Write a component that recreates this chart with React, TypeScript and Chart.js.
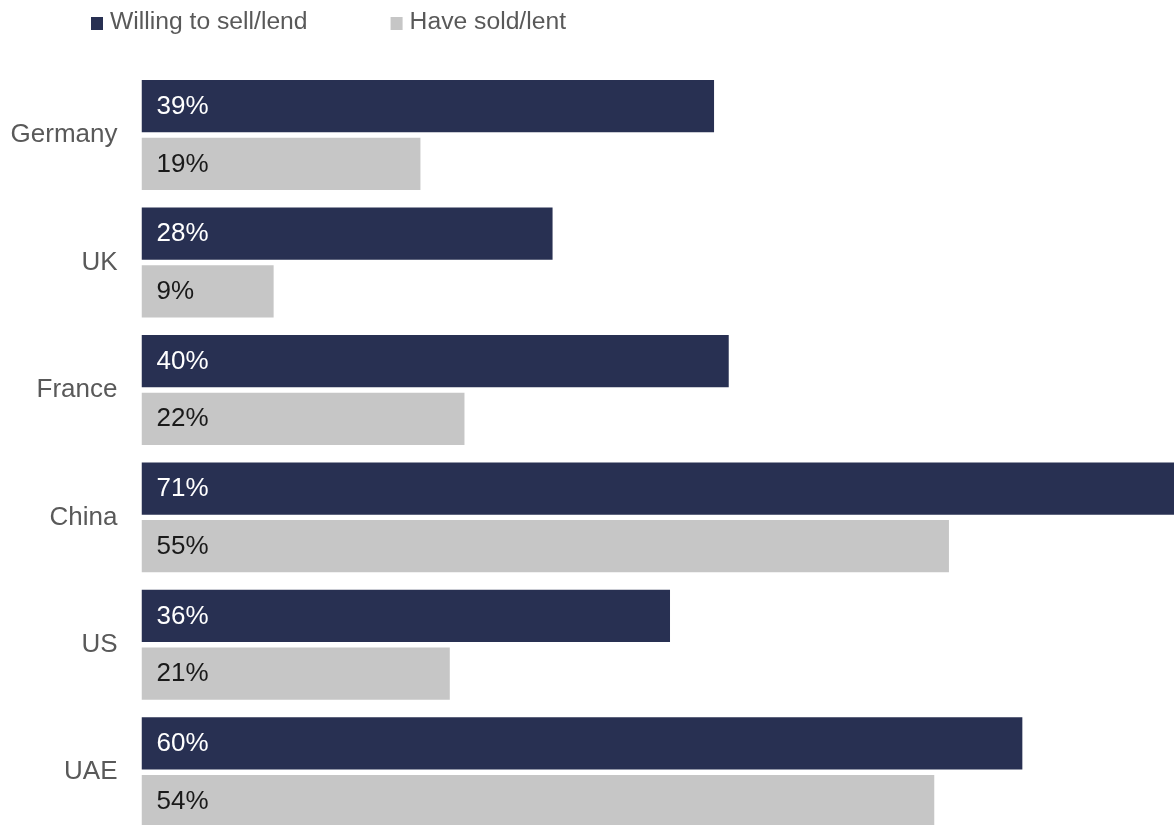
import React, { useEffect, useRef } from "react";
import { Chart, registerables } from "chart.js";

Chart.register(...registerables);

const categories = ["Germany", "UK", "France", "China", "US", "UAE"];
const willingValues = [39, 28, 40, 71, 36, 60];
const haveValues = [19, 9, 22, 55, 21, 54];
const seriesLabels = ["Willing to sell/lend", "Have sold/lent"];
const seriesColors = ["#283052", "#C6C6C6"];
const labelColors = ["#FFFFFF", "#1A1A1A"];

const FONT = "'Liberation Sans', Arial, Helvetica, sans-serif";

export default function App() {
  const ref = useRef<HTMLCanvasElement>(null);

  useEffect(() => {
    const canvas = ref.current;
    if (!canvas) return;

    const legendPlugin = {
      id: "customLegend",
      afterDraw(chart: any) {
        const ctx = chart.ctx;
        ctx.save();
        ctx.font = `24.7px ${FONT}`;
        ctx.textBaseline = "middle";
        ctx.textAlign = "left";
        let x = 91;
        chart.data.datasets.forEach((ds: any) => {
          ctx.fillStyle = ds.backgroundColor;
          ctx.fillRect(x, 17, 12, 13);
          ctx.fillStyle = "#595959";
          ctx.fillText(ds.label, x + 19, 22);
          x += 19 + ctx.measureText(ds.label).width + 83;
        });
        ctx.restore();
      },
    };

    const barLabelPlugin = {
      id: "barLabels",
      afterDatasetsDraw(chart: any) {
        const ctx = chart.ctx;
        ctx.save();
        ctx.font = `26px ${FONT}`;
        ctx.textBaseline = "middle";
        ctx.textAlign = "left";
        chart.data.datasets.forEach((ds: any, di: number) => {
          const meta = chart.getDatasetMeta(di);
          meta.data.forEach((bar: any, i: number) => {
            const p = bar.getProps(["base", "y"], true);
            ctx.fillStyle = labelColors[di];
            ctx.fillText(`${ds.data[i]}%`, p.base + 15, p.y + 0.5);
          });
        });
        ctx.restore();
      },
    };

    const chart = new Chart(canvas, {
      type: "bar",
      data: {
        labels: categories,
        datasets: [
          {
            label: seriesLabels[0],
            data: willingValues,
            backgroundColor: seriesColors[0],
            borderWidth: 0,
            categoryPercentage: 0.905,
            barPercentage: 0.906,
          },
          {
            label: seriesLabels[1],
            data: haveValues,
            backgroundColor: seriesColors[1],
            borderWidth: 0,
            categoryPercentage: 0.905,
            barPercentage: 0.906,
          },
        ],
      },
      options: {
        indexAxis: "y",
        responsive: false,
        animation: false,
        layout: { padding: { top: 71.3, bottom: 4, left: 0, right: 0 } },
        plugins: {
          legend: { display: false },
          tooltip: { enabled: false },
          title: { display: false },
        },
        scales: {
          x: {
            display: false,
            min: 0,
            max: 70.33,
            grid: { display: false },
          },
          y: {
            grid: { display: false, drawTicks: false },
            border: { display: false },
            ticks: {
              color: "#595959",
              font: { family: FONT, size: 26 },
              padding: 24,
            },
            afterFit(scale: any) {
              scale.width = 141.5;
              scale.paddingTop = 0;
              scale.paddingBottom = 0;
            },
          },
        },
      },
      plugins: [barLabelPlugin, legendPlugin],
    });

    return () => chart.destroy();
  }, []);

  return (
    <div
      style={{
        position: "fixed",
        left: 0,
        top: 0,
        width: 1174,
        height: 825,
        overflow: "hidden",
        background: "#FFFFFF",
      }}
    >
      <canvas ref={ref} width={1174} height={840} style={{ display: "block" }} />
    </div>
  );
}
